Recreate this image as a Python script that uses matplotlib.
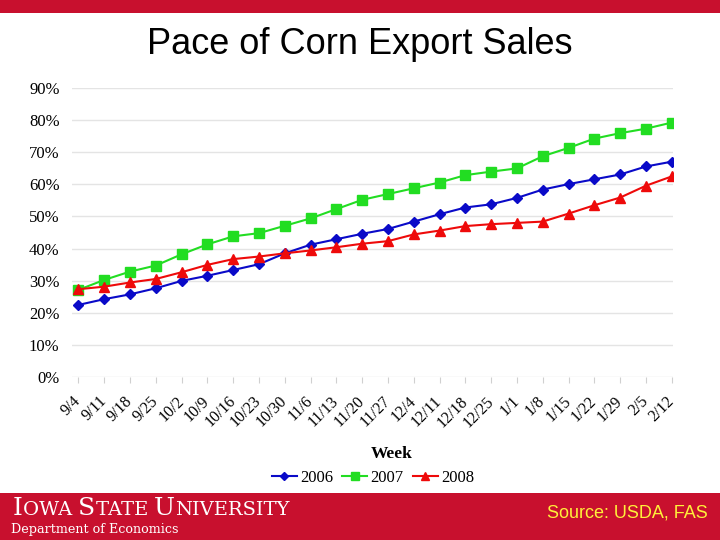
import numpy as np
import matplotlib
matplotlib.use('Agg')
import matplotlib.pyplot as plt
from matplotlib.patches import Rectangle
from matplotlib.transforms import ScaledTranslation

weeks = ['9/4', '9/11', '9/18', '9/25', '10/2', '10/9', '10/16', '10/23', '10/30',
         '11/6', '11/13', '11/20', '11/27', '12/4', '12/11', '12/18', '12/25',
         '1/1', '1/8', '1/15', '1/22', '1/29', '2/5', '2/12']
sales_2006 = [22.4, 24.2, 25.7, 27.6, 29.9, 31.5, 33.3, 35.1, 38.5, 41.2, 42.9, 44.6,
              46.1, 48.4, 50.7, 52.8, 53.8, 55.8, 58.4, 60.1, 61.6, 63.1, 65.6, 67.1]
sales_2007 = [27.1, 30.2, 32.8, 34.7, 38.2, 41.3, 43.8, 44.8, 47.1, 49.4, 52.3, 55.2,
              57.0, 58.8, 60.6, 62.9, 64.0, 65.0, 68.8, 71.4, 74.3, 76.0, 77.4, 79.3]
sales_2008 = [27.3, 28.1, 29.4, 30.5, 32.6, 34.9, 36.7, 37.5, 38.5, 39.4, 40.4, 41.5,
              42.3, 44.4, 45.6, 47.0, 47.6, 48.0, 48.4, 50.9, 53.5, 55.9, 59.6, 62.5]
y_ticks = [0, 10, 20, 30, 40, 50, 60, 70, 80, 90]

ISU_RED = '#C8102E'
SERIF = 'Liberation Serif'
SANS = 'Liberation Sans'

fig = plt.figure(figsize=(7.2, 5.4), dpi=100)
fig.patch.set_facecolor('white')

# top band and bottom banner
fig.add_artist(Rectangle((0, 1 - 13/540), 1, 13/540, transform=fig.transFigure,
                         facecolor=ISU_RED, edgecolor='none'))
fig.add_artist(Rectangle((0, 0), 1, 47/540, transform=fig.transFigure,
                         facecolor=ISU_RED, edgecolor='none'))

fig.text(0.50, 1 - 54/540, 'Pace of Corn Export Sales', ha='center', va='baseline',
         fontsize=26, family=SANS, color='black')

ax = fig.add_axes([72/720, 1 - 376.7/540, (673 - 72)/720, (376.7 - 88.3)/540])
x = np.arange(len(weeks))
ax.plot(x, sales_2006, color='#0a0ac8', marker='D', markersize=5.5, lw=1.5, label='2006', zorder=3)
ax.plot(x, sales_2007, color='#22dd22', marker='s', markersize=7, lw=1.5, label='2007', zorder=2)
ax.plot(x, sales_2008, color='#ee0a0a', marker='^', markersize=7.5, lw=1.5, label='2008', zorder=4)

ax.set_xlim(-0.25, 23.05)
ax.set_ylim(0, 90)
ax.set_yticks(y_ticks)
ax.set_yticklabels([f'{v}%' for v in y_ticks], family=SERIF, fontsize=12)
ax.set_xticks(x)
ax.set_xticklabels(weeks, rotation=45, ha='right', va='center', rotation_mode='anchor',
                   family=SERIF, fontsize=11.5)
shift = ScaledTranslation(-7/100, 0, fig.dpi_scale_trans)
for lab in ax.get_xticklabels():
    lab.set_transform(lab.get_transform() + shift)
ax.tick_params(axis='y', length=0, pad=9)
ax.tick_params(axis='x', length=4, color='#d0d0d0', pad=12)
ax.grid(axis='y', color='#e4e4e4', lw=1)
ax.set_axisbelow(True)
for s in ax.spines.values():
    s.set_visible(False)

fig.text(392/720, 1 - 454/540, 'Week', ha='center', va='center', family=SERIF,
         fontsize=12.5, fontweight='bold')
fig.legend(loc='center', bbox_to_anchor=(373/720, 1 - 478/540), ncol=3, frameon=False,
           prop={'family': SERIF, 'size': 12}, handlelength=1.5, handletextpad=0.2,
           columnspacing=0.55, markerscale=0.8)

# banner text, small caps built piece by piece
renderer = fig.canvas.get_renderer()
xpos = 13
base = 540 - 515
for txt, size in [('I', 18), ('OWA ', 14), ('S', 18), ('TATE ', 14), ('U', 18), ('NIVERSITY', 14)]:
    t = fig.text(xpos/720, base/540, txt, ha='left', va='baseline', family='DejaVu Serif',
                 fontsize=size, color='white')
    xpos += t.get_window_extent(renderer).width
fig.text(11/720, 1 - 529/540, 'Department of Economics', ha='left', va='center',
         family='DejaVu Serif', fontsize=9.2, color='white')
fig.text(708/720, 1 - 513/540, 'Source: USDA, FAS', ha='right', va='center',
         family=SANS, fontsize=13, color='#fff03a')

fig.savefig('out.png', dpi=100)
